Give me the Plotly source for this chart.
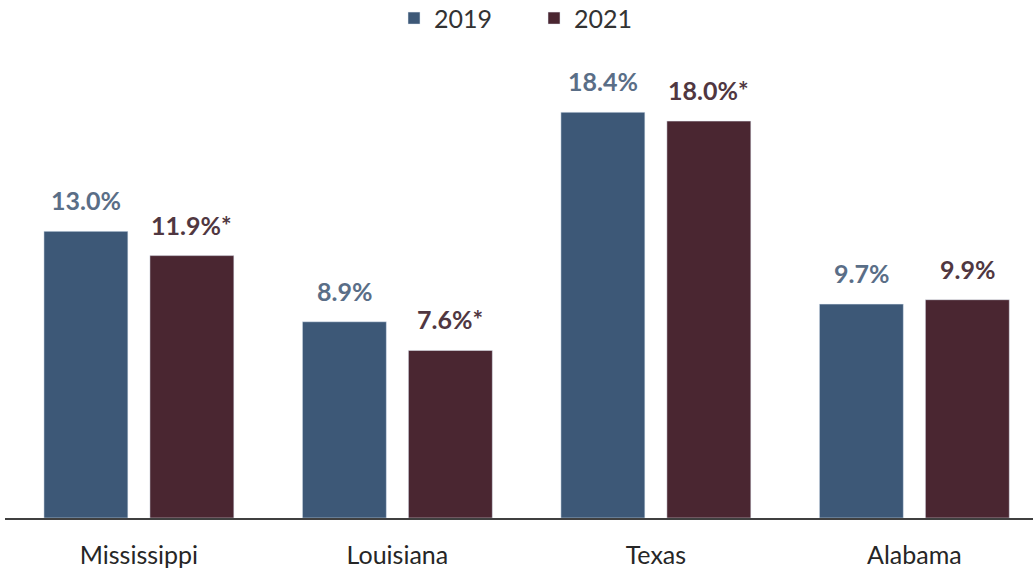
import plotly.graph_objects as go

states = ["Mississippi", "Louisiana", "Texas", "Alabama"]
vals_2019 = [13.0, 8.9, 18.4, 9.7]
vals_2021 = [11.9, 7.6, 18.0, 9.9]
labels_2019 = ["13.0%", "8.9%", "18.4%", "9.7%"]
labels_2021 = ["11.9%*", "7.6%*", "18.0%*", "9.9%"]

c2019 = "#3d5877"
c2021 = "#4a2631"
t2019 = "#5a6e87"
t2021 = "#503741"
FONT = "Lato"

fig = go.Figure()
fig.add_trace(go.Bar(name="2019", x=states, y=vals_2019, marker_color=c2019))
fig.add_trace(go.Bar(name="2021", x=states, y=vals_2021, marker_color=c2021))

ann = []
for s, v, t in zip(states, vals_2019, labels_2019):
    ann.append(dict(x=s, y=v, text="<b>%s</b>" % t, showarrow=False, xshift=-53,
                    yanchor="bottom", yshift=14, font=dict(family=FONT, size=25, color=t2019)))
for s, v, t in zip(states, vals_2021, labels_2021):
    ann.append(dict(x=s, y=v, text="<b>%s</b>" % t, showarrow=False, xshift=53,
                    yanchor="bottom", yshift=14, font=dict(family=FONT, size=25, color=t2021)))

fig.update_layout(
    width=1033, height=571,
    margin=dict(l=5, r=0, t=77, b=53, autoexpand=False),
    paper_bgcolor="white", plot_bgcolor="white",
    barmode="group", bargap=0.18, bargroupgap=0.208,
    font=dict(family=FONT, size=20, color="#262626"),
    legend=dict(orientation="h", x=0.5146, xanchor="center", y=1.133, yref="paper",
                yanchor="middle", font=dict(size=25, color="#333333"), itemwidth=30,
                entrywidth=95, entrywidthmode="pixels"),
    annotations=ann,
    xaxis=dict(range=[-0.518, 3.459], showline=True, linecolor="#404040", linewidth=2,
               ticks="", ticklabelstandoff=14,
               tickfont=dict(size=25, color="#262626"), showgrid=False),
    yaxis=dict(range=[0, 20], visible=False, showgrid=False),
)

fig.write_html("out.html", config={"displayModeBar": False},
               post_script="document.body.style.margin='0px';")
